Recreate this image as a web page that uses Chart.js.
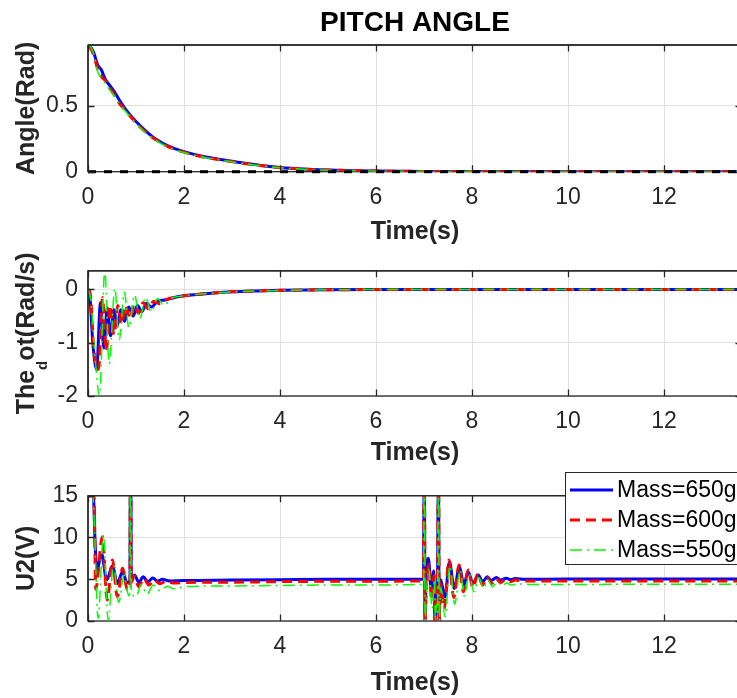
<!DOCTYPE html>
<html>
<head>
<meta charset="utf-8">
<script src="https://cdn.jsdelivr.net/npm/chart.js@4.4.1/dist/chart.umd.min.js"></script>
<style>
  html, body { margin: 0; padding: 0; background: #fff; overflow: hidden; width: 737px; height: 698px; }
  canvas { position: absolute; left: 0; }
</style>
</head>
<body>
<canvas id="pitch" width="745" height="247" style="top:0"></canvas>
<canvas id="thdot" width="745" height="221" style="top:247px"></canvas>
<canvas id="u2" width="745" height="230" style="top:468px"></canvas>
<script>
// ---- data (time in s, value) ----
const legendLabels = ['Mass=650g', 'Mass=600g', 'Mass=550g'];

const angle650 = [[0,0.95],[0.05,0.945],[0.12,0.9],[0.2,0.81],[0.28,0.77],[0.36,0.7],[0.45,0.655],[0.55,0.605],[0.65,0.545],[0.8,0.465],[1.0,0.38],[1.2,0.31],[1.4,0.25],[1.7,0.19],[2.0,0.152],[2.4,0.115],[2.8,0.09],[3.2,0.067],[3.6,0.048],[4.0,0.032],[4.5,0.02],[5.0,0.013],[5.5,0.008],[6.0,0.005],[7.0,0.002],[8.0,0.001],[10.0,0],[13.7,0]];
const angle600 = [[0,0.95],[0.05,0.94],[0.12,0.88],[0.2,0.78],[0.28,0.72],[0.36,0.69],[0.45,0.635],[0.55,0.58],[0.65,0.52],[0.8,0.455],[1.0,0.37],[1.2,0.3],[1.4,0.245],[1.7,0.185],[2.0,0.148],[2.4,0.112],[2.8,0.087],[3.2,0.065],[3.6,0.047],[4.0,0.031],[4.5,0.019],[5.0,0.012],[5.5,0.008],[6.0,0.005],[7.0,0.002],[8.0,0.001],[10.0,0],[13.7,0]];
const angle550 = [[0,0.96],[0.05,0.95],[0.12,0.89],[0.2,0.76],[0.28,0.71],[0.36,0.67],[0.45,0.62],[0.55,0.575],[0.65,0.515],[0.8,0.45],[1.0,0.365],[1.2,0.295],[1.4,0.24],[1.7,0.18],[2.0,0.145],[2.4,0.11],[2.8,0.085],[3.2,0.063],[3.6,0.045],[4.0,0.03],[4.5,0.018],[5.0,0.011],[5.5,0.007],[6.0,0.004],[7.0,0.002],[8.0,0.001],[10.0,0],[13.7,0]];
const angleRef = [[0,0],[13.7,0]];

const thdot650 = [[0,0],[0.03,-0.05],[0.1,-1.0],[0.18,-1.5],[0.26,-0.25],[0.33,-1.1],[0.4,-0.35],[0.47,-0.87],[0.54,-0.38],[0.61,-0.68],[0.68,-0.38],[0.76,-0.6],[0.85,-0.33],[0.94,-0.5],[1.03,-0.3],[1.12,-0.42],[1.22,-0.26],[1.32,-0.33],[1.45,-0.22],[1.6,-0.2],[1.8,-0.15],[2.0,-0.12],[2.5,-0.075],[3.0,-0.045],[3.5,-0.028],[4.0,-0.017],[5,-0.006],[6,-0.002],[8,0],[13.7,0]];
const thdot600 = [[0,0],[0.05,-0.1],[0.12,-1.1],[0.22,-1.5],[0.3,-0.15],[0.38,-1.15],[0.46,-0.3],[0.54,-0.85],[0.62,-0.3],[0.7,-0.65],[0.78,-0.3],[0.87,-0.55],[0.96,-0.28],[1.05,-0.45],[1.15,-0.25],[1.25,-0.36],[1.37,-0.22],[1.5,-0.27],[1.65,-0.18],[1.85,-0.15],[2.0,-0.12],[2.5,-0.075],[3,-0.045],[3.5,-0.028],[4,-0.017],[5,-0.006],[6,-0.002],[8,0],[13.7,0]];
const thdot550 = [[0,0],[0.06,-0.2],[0.15,-1.3],[0.24,-2.0],[0.35,0.37],[0.44,-1.4],[0.56,0.02],[0.65,-0.95],[0.76,-0.05],[0.85,-0.72],[0.97,-0.1],[1.08,-0.55],[1.2,-0.15],[1.32,-0.42],[1.45,-0.17],[1.58,-0.3],[1.75,-0.16],[2.0,-0.12],[2.5,-0.075],[3,-0.045],[3.5,-0.028],[4,-0.017],[5,-0.006],[6,-0.002],[8,0],[13.7,0]];

const u2650 = [[0,15],[0.11,15],[0.15,9],[0.19,6.1],[0.28,8.1],[0.39,4.9],[0.51,6.6],[0.61,4.5],[0.72,5.9],[0.81,4.6],[0.875,4.8],[0.88,15],[0.895,15],[0.9,5.0],[0.97,5.5],[1.06,4.6],[1.15,5.3],[1.25,4.7],[1.35,5.15],[1.45,4.75],[1.55,5.0],[1.7,4.8],[2.0,4.85],[3.0,4.9],[4.0,4.95],[5.0,5.0],[6.99,5.0],[7.0,15],[7.01,15],[7.02,0],[7.04,4.5],[7.09,7.5],[7.15,4.0],[7.2,6.0],[7.23,0],[7.26,3.5],[7.28,2.5],[7.295,15],[7.305,15],[7.315,0],[7.34,5.0],[7.44,2.9],[7.53,7.1],[7.63,3.9],[7.74,6.5],[7.83,4.3],[7.92,5.9],[8.02,4.5],[8.13,5.5],[8.22,4.7],[8.32,5.3],[8.4,4.85],[8.51,5.2],[8.6,4.9],[8.71,5.12],[8.8,4.95],[8.9,5.08],[9.1,5.0],[10,5.02],[13.7,5.02]];
const u2600 = [[0,15],[0.125,15],[0.16,3.8],[0.3,10.1],[0.4,2.5],[0.51,7.3],[0.61,2.9],[0.72,6.3],[0.82,3.7],[0.875,4.5],[0.88,15],[0.895,15],[0.9,4.6],[0.96,5.4],[1.06,4.1],[1.16,5.1],[1.27,4.3],[1.38,4.9],[1.5,4.45],[1.62,4.75],[1.8,4.55],[2.0,4.6],[3,4.65],[5,4.75],[6.99,4.8],[7.0,15],[7.012,15],[7.02,0],[7.045,3.5],[7.1,6.8],[7.16,2.5],[7.21,5.5],[7.23,0],[7.26,2.5],[7.28,1.5],[7.295,15],[7.307,15],[7.315,0],[7.34,4.5],[7.42,1.5],[7.52,7.3],[7.62,2.8],[7.73,6.7],[7.82,3.5],[7.92,6.1],[8.02,4.0],[8.12,5.6],[8.22,4.3],[8.31,5.3],[8.41,4.5],[8.5,5.1],[8.6,4.6],[8.7,5.0],[8.8,4.7],[8.9,4.9],[9.1,4.8],[13.7,4.8]];
const u2550 = [[0,15],[0.1,15],[0.13,12],[0.21,0.3],[0.32,10.3],[0.42,0.1],[0.53,6.7],[0.64,2.2],[0.75,5.5],[0.85,3.0],[0.875,4.0],[0.88,15],[0.895,15],[0.9,3.6],[1.0,2.9],[1.11,4.4],[1.23,3.2],[1.36,4.3],[1.5,3.6],[1.65,4.15],[1.8,3.85],[2.0,4.1],[3,4.2],[5,4.3],[6.99,4.38],[7.0,15],[7.012,15],[7.022,0],[7.05,3],[7.1,6.3],[7.17,1.5],[7.22,5],[7.235,0],[7.26,2],[7.28,1],[7.295,15],[7.307,15],[7.318,0],[7.35,4],[7.44,0.5],[7.54,6.6],[7.64,2.0],[7.75,6.1],[7.84,3.0],[7.94,5.6],[8.04,3.5],[8.14,5.2],[8.24,3.9],[8.33,4.9],[8.43,4.1],[8.52,4.7],[8.62,4.2],[8.72,4.55],[8.82,4.3],[8.95,4.45],[9.2,4.38],[13.7,4.4]];

// ---- styles ----
const FONT = '"Liberation Sans", Arial, Helvetica, sans-serif';
const INK = '#262626';
const GRID = '#e1e1e1';
const X_MAX = 13.625;
const styles = [
  { color: '#0000ff', width: 3,   dash: [] },
  { color: '#ff0000', width: 3,   dash: [10, 6] },
  { color: '#00ff00', width: 1.5, dash: [12, 5, 2, 5] },
];

Chart.defaults.font.family = FONT;
Chart.defaults.color = INK;

function series(pairs, st, order) {
  return {
    data: pairs.map(([x, y]) => ({ x, y })),
    borderColor: st.color, borderWidth: st.width, borderDash: st.dash,
    pointRadius: 0, fill: false, cubicInterpolationMode: 'monotone', order,
  };
}

function axes(yMin, yMax, yStep, xHeight) {
  return {
    x: {
      type: 'linear', min: 0, max: X_MAX,
      afterFit: s => { s.height = xHeight; },
      grid: { color: GRID, drawTicks: false },
      border: { display: false },
      ticks: { stepSize: 2, includeBounds: false, autoSkip: false, maxRotation: 0,
               padding: 12, font: { size: 23 }, color: INK, callback: v => String(v) },
      title: { display: true, text: 'Time(s)', padding: 0, color: INK,
               font: { size: 25, weight: 'bold' } },
    },
    y: {
      type: 'linear', min: yMin, max: yMax,
      afterFit: s => { s.width = 88; },
      grid: { color: GRID, drawTicks: false },
      border: { display: false },
      ticks: { stepSize: yStep, includeBounds: false, padding: 10,
               font: { size: 23 }, color: INK, callback: v => String(v) },
    },
  };
}

// box, inward ticks, and y label (with TeX-like subscript support)
const frame = {
  id: 'frame',
  beforeDatasetsDraw(chart) {
    const { ctx, chartArea: a } = chart;
    ctx.save();
    ctx.strokeStyle = INK;
    ctx.lineWidth = 1.3;
    ctx.strokeRect(a.left, a.top, a.right - a.left, a.bottom - a.top);
    ctx.restore();
  },
  afterDatasetsDraw(chart, args, opts) {
    const { ctx, chartArea: a, scales } = chart;
    ctx.save();
    ctx.strokeStyle = INK;
    ctx.lineWidth = 1.3;
    ctx.beginPath();
    ctx.moveTo(a.left, a.top); ctx.lineTo(a.right, a.top);
    ctx.moveTo(a.left, a.top); ctx.lineTo(a.left, a.bottom);
    scales.x.ticks.forEach(t => {
      const px = Math.round(scales.x.getPixelForValue(t.value)) + 0.5;
      ctx.moveTo(px, a.bottom); ctx.lineTo(px, a.bottom - 6.5);
      ctx.moveTo(px, a.top); ctx.lineTo(px, a.top + 6.5);
    });
    scales.y.ticks.forEach(t => {
      const py = Math.round(scales.y.getPixelForValue(t.value)) + 0.5;
      ctx.moveTo(a.left, py); ctx.lineTo(a.left + 6.5, py);
      ctx.moveTo(a.right, py); ctx.lineTo(a.right - 6.5, py);
    });
    ctx.stroke();

    const segs = opts.yTitle || [];
    const mainFont = 'bold 25px ' + FONT, subFont = 'bold 15px ' + FONT;
    let total = 0;
    segs.forEach(s => { ctx.font = s.sub ? subFont : mainFont; s.w = ctx.measureText(s.text).width; total += s.w; });
    ctx.translate(34, (a.top + a.bottom) / 2);
    ctx.rotate(-Math.PI / 2);
    ctx.fillStyle = INK;
    ctx.textBaseline = 'alphabetic';
    let x = -total / 2;
    segs.forEach(s => {
      ctx.font = s.sub ? subFont : mainFont;
      ctx.fillText(s.text, x, s.sub ? 13 : 0);
      x += s.w;
    });
    ctx.restore();
  },
};

const figTitle = {
  id: 'figTitle',
  afterDraw(chart) {
    const { ctx, chartArea: a } = chart;
    ctx.save();
    ctx.font = 'bold 28px ' + FONT;
    ctx.fillStyle = '#000';
    ctx.textAlign = 'center';
    ctx.textBaseline = 'middle';
    ctx.fillText('PITCH ANGLE', (a.left + a.right) / 2, 23);
    ctx.restore();
  },
};

const legendBox = {
  id: 'legendBox',
  afterDraw(chart) {
    const { ctx } = chart;
    ctx.save();
    ctx.fillStyle = '#fff';
    ctx.fillRect(565, 4, 180, 93);
    ctx.strokeStyle = INK;
    ctx.lineWidth = 1;
    ctx.strokeRect(565.5, 4.5, 178, 92);
    legendLabels.forEach((lab, i) => {
      const y = 22 + 30 * i;
      const st = styles[i];
      ctx.strokeStyle = st.color; ctx.lineWidth = st.width; ctx.setLineDash(st.dash);
      ctx.beginPath(); ctx.moveTo(570, y); ctx.lineTo(613, y); ctx.stroke();
      ctx.setLineDash([]);
      ctx.fillStyle = '#000';
      ctx.font = '23px ' + FONT;
      ctx.textBaseline = 'middle';
      ctx.fillText(lab, 617, y + 1);
    });
    ctx.restore();
  },
};

function baseOptions(padTop, yTitle, scales) {
  return {
    responsive: false, animation: false, events: [],
    layout: { padding: { top: padTop, right: 3, left: 0, bottom: 0 } },
    scales,
    plugins: { legend: { display: false }, tooltip: { enabled: false }, frame: { yTitle } },
  };
}

new Chart(document.getElementById('pitch'), {
  type: 'line',
  data: { datasets: [
    Object.assign(series(angleRef, { color: '#000', width: 3, dash: [8, 8] }, 0),
                  { cubicInterpolationMode: 'default', tension: 0, clip: 4 }),
    series(angle550, styles[2], 1),
    series(angle600, styles[1], 2),
    series(angle650, styles[0], 3),
  ] },
  options: baseOptions(45, [{ text: 'Angle(Rad)' }], axes(0, 0.96, 0.5, 75.3)),
  plugins: [frame, figTitle],
});

new Chart(document.getElementById('thdot'), {
  type: 'line',
  data: { datasets: [
    series(thdot550, styles[2], 1),
    series(thdot600, styles[1], 2),
    series(thdot650, styles[0], 3),
  ] },
  options: baseOptions(23.7, [{ text: 'The' }, { text: 'd', sub: true }, { text: 'ot(Rad/s)' }], axes(-2, 0.35, 1, 72)),
  plugins: [frame],
});

new Chart(document.getElementById('u2'), {
  type: 'line',
  data: { datasets: [
    series(u2550, styles[2], 1),
    series(u2600, styles[1], 2),
    series(u2650, styles[0], 3),
  ] },
  options: baseOptions(27.7, [{ text: 'U2(V)' }], axes(0, 15, 5, 77)),
  plugins: [frame, legendBox],
});
</script>
</body>
</html>
